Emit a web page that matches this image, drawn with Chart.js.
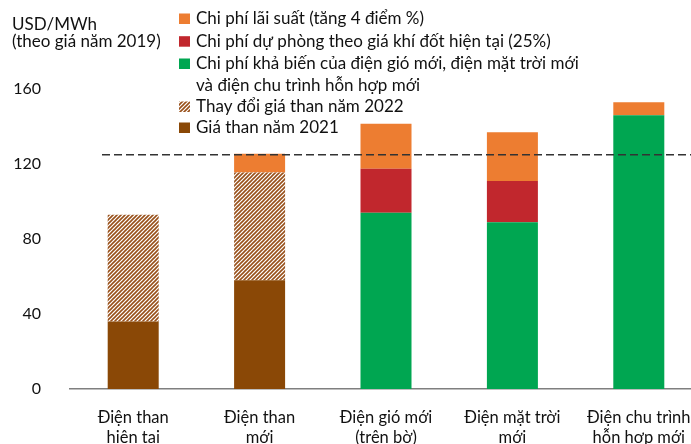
<!DOCTYPE html>
<html>
<head>
<meta charset="utf-8">
<script src="https://cdn.jsdelivr.net/npm/chart.js@4.4.1/dist/chart.umd.min.js"></script>
<style>
html,body{margin:0;padding:0;background:#fff;}
#clip{width:691px;height:444px;overflow:hidden;position:relative;}
#wrap{width:702px;height:444px;position:relative;}
</style>
</head>
<body>
<div id="clip"><div id="wrap"><canvas id="c"></canvas></div></div>
<script>
// ---- data ----
const categories = [
  ["Điện than", "hiện tại"],
  ["Điện than", "mới"],
  ["Điện gió mới", "(trên bờ)"],
  ["Điện mặt trời", "mới"],
  ["Điện chu trình", "hỗn hợp mới"]
];
const coal2021       = [36, 58, null, null, null];
const coalChange2022 = [57, 57.5, null, null, null];
const variableCost   = [null, null, 94, 89, 146];
const gasReserve     = [null, null, 23.5, 22, null];
const interestCost   = [null, 10, 24, 26, 7];
const thresholdValue = 125;
const yTicks = [0, 40, 80, 120, 160];
const axisTitle = ["USD/MWh", "(theo giá năm 2019)"];
const legendLabels = [
  ["Chi phí lãi suất (tăng 4 điểm %)"],
  ["Chi phí dự phòng theo giá khí đốt hiện tại (25%)"],
  ["Chi phí khả biến của điện gió mới, điện mặt trời mới", "và điện chu trình hỗn hợp mới"],
  ["Thay đổi giá than năm 2022"],
  ["Giá than năm 2021"]
];

// ---- styles ----
const FONT = "Lato, 'Open Sans', sans-serif";
const TEXT = "#111111";
const COL_ORANGE = "#ED7D31";
const COL_RED = "#C1272D";
const COL_GREEN = "#00A651";
const COL_BROWN = "#8A4806";

function makeHatch() {
  const t = document.createElement("canvas");
  t.width = 4; t.height = 4;
  const g = t.getContext("2d");
  g.fillStyle = "#ffffff";
  g.fillRect(0, 0, 4, 4);
  g.strokeStyle = "#98501A";
  g.lineWidth = 1.6;
  g.beginPath();
  g.moveTo(0, 4); g.lineTo(4, 0);
  g.moveTo(-1, 1); g.lineTo(1, -1);
  g.moveTo(3, 5); g.lineTo(5, 3);
  g.stroke();
  return g.createPattern(t, "repeat");
}
const hatch = makeHatch();

const legendColors = [COL_ORANGE, COL_RED, COL_GREEN, hatch, COL_BROWN];

const overlay = {
  id: "overlay",
  afterDatasetsDraw(chart) {
    const ctx = chart.ctx;
    const y = chart.scales.y.getPixelForValue(thresholdValue);
    ctx.save();
    ctx.strokeStyle = "#333333";
    ctx.lineWidth = 1.5;
    ctx.setLineDash([8, 4]);
    ctx.beginPath();
    ctx.moveTo(102, y);
    ctx.lineTo(chart.chartArea.right, y);
    ctx.stroke();
    ctx.restore();
  },
  afterDraw(chart) {
    const ctx = chart.ctx;
    ctx.save();
    ctx.fillStyle = TEXT;
    ctx.textBaseline = "alphabetic";
    ctx.textAlign = "left";
    ctx.font = "17px " + FONT;
    ctx.fillText(axisTitle[0], 12, 30);
    ctx.fillText(axisTitle[1], 12, 47);
    // legend
    ctx.font = "17px " + FONT;
    const baselines = [[24], [46.7], [69, 90.5], [112], [133]];
    for (let i = 0; i < legendLabels.length; i++) {
      const b = baselines[i];
      ctx.fillStyle = legendColors[i];
      ctx.fillRect(179, b[0] - 10.5, 11, 10.5);
      ctx.fillStyle = TEXT;
      legendLabels[i].forEach((line, j) => ctx.fillText(line, 196, b[j]));
    }
    ctx.restore();
  }
};

new Chart(document.getElementById("c"), {
  type: "bar",
  data: {
    labels: categories,
    datasets: [
      { label: legendLabels[4].join(" "), data: coal2021, backgroundColor: COL_BROWN },
      { label: legendLabels[3].join(" "), data: coalChange2022, backgroundColor: hatch },
      { label: legendLabels[2].join(" "), data: variableCost, backgroundColor: COL_GREEN },
      { label: legendLabels[1].join(" "), data: gasReserve, backgroundColor: COL_RED },
      { label: legendLabels[0].join(" "), data: interestCost, backgroundColor: COL_ORANGE }
    ]
  },
  options: {
    responsive: true,
    maintainAspectRatio: false,
    animation: false,
    devicePixelRatio: 1,
    datasets: { bar: { barPercentage: 0.4035, categoryPercentage: 1, borderWidth: 0 } },
    layout: { padding: { top: 89, left: 0, right: 0, bottom: 0 } },
    plugins: { legend: { display: false }, tooltip: { enabled: false } },
    scales: {
      x: {
        stacked: true,
        grid: { display: false, drawTicks: false },
        border: { display: true, color: "#7f7f7f", width: 1.5 },
        ticks: { color: TEXT, font: { family: FONT, size: 16.5, lineHeight: 1.2 }, padding: 19, maxRotation: 0, autoSkip: false },
        afterFit(s) { s.height = 55; s.paddingLeft = 0; s.paddingRight = 0; }
      },
      y: {
        stacked: true,
        min: 0, max: 160,
        grid: { display: false, drawTicks: false },
        border: { display: false },
        afterBuildTicks(s) { s.ticks = yTicks.map(v => ({ value: v })); },
        ticks: { color: TEXT, font: { family: FONT, size: 16 }, padding: 29 },
        afterFit(s) { s.width = 70; s.paddingTop = 0; s.paddingBottom = 0; }
      }
    }
  },
  plugins: [overlay]
});
</script>
</body>
</html>
